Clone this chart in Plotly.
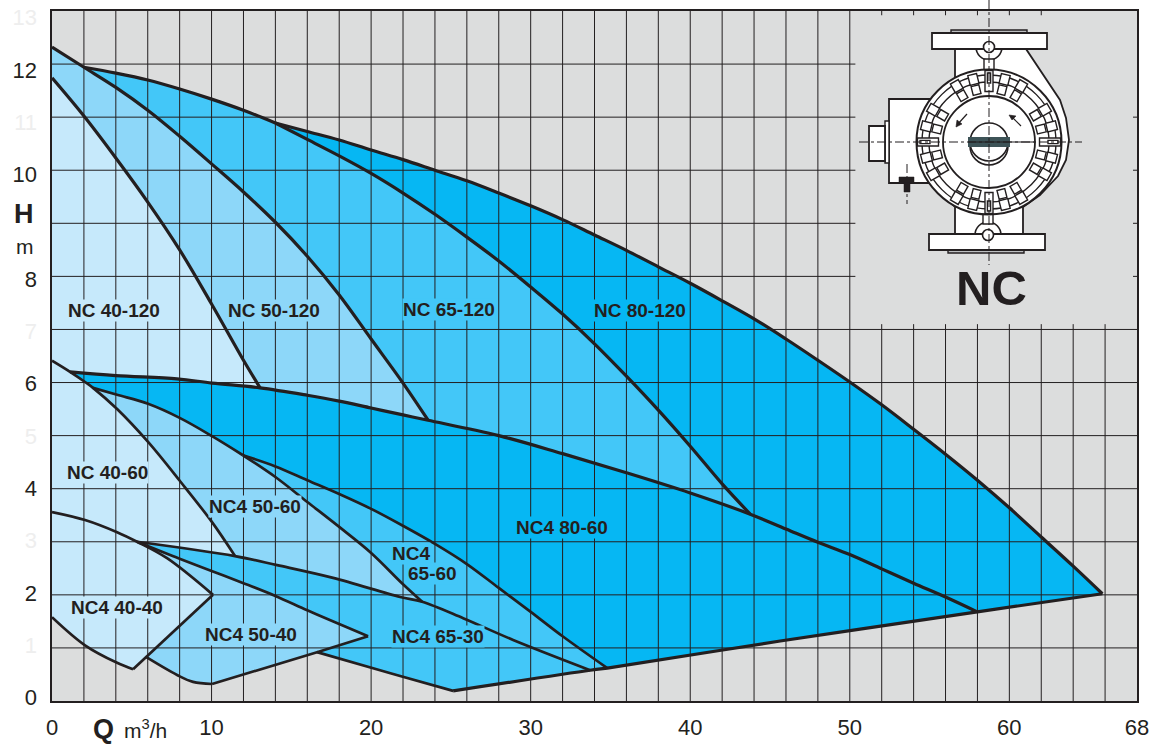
import math
import plotly.graph_objects as go

# ---- axis ticks ----
X_TICKS = [0, 10, 20, 30, 40, 50, 60, 68]
Y_DARK = [0, 2, 4, 6, 8, 10, 12]
Y_FAINT = [1, 3, 5, 7, 11, 13]

# ---- curves (Q m3/h, H m) ----
C40_120_Q = [0, 2, 4, 6, 8, 10, 12, 13.04]
C40_120_H = [11.74, 11.02, 10.23, 9.40, 8.50, 7.48, 6.42, 5.90]
C50_120_Q = [0, 2, 4, 6, 8, 10, 12, 14, 16, 18, 20, 22, 23.57]
C50_120_H = [12.32, 11.94, 11.56, 11.13, 10.64, 10.12, 9.59, 9.02, 8.38, 7.65, 6.82, 5.99, 5.29]
C65_120_Q = [14, 16, 18, 20, 22, 24, 26, 28, 30, 32, 34, 36, 38, 40, 42, 43.76]
C65_120_H = [10.89, 10.58, 10.27, 9.94, 9.57, 9.17, 8.74, 8.29, 7.80, 7.29, 6.73, 6.12, 5.48, 4.80, 4.09, 3.52]
TOP_A_Q = [2, 4, 6, 8, 10, 12, 14]
TOP_A_H = [11.94, 11.83, 11.70, 11.53, 11.34, 11.13, 10.89]
TOP_B_Q = [14, 16, 18, 20, 22, 24, 26, 28, 30, 32, 34, 36, 38, 40, 42, 44, 46, 48, 50, 52, 54, 56, 58, 60, 62, 64, 65.83]
TOP_B_H = [10.89, 10.73, 10.57, 10.38, 10.20, 10.00, 9.80, 9.57, 9.33, 9.07, 8.78, 8.49, 8.18, 7.87, 7.54, 7.20, 6.82,
           6.42, 6.01, 5.58, 5.12, 4.65, 4.16, 3.64, 3.09, 2.54, 2.02]
LOW_A_Q = [1.13, 4.00, 7.84, 10.03, 13.04]
LOW_A_H = [6.20, 6.13, 6.07, 5.99, 5.90]
LOW_B_Q = [13.04, 16, 18, 20, 22, 23.57]
LOW_B_H = [5.90, 5.76, 5.65, 5.52, 5.39, 5.29]
LOW_C_Q = [23.57, 28, 32, 36, 40, 43.76]
LOW_C_H = [5.29, 5.00, 4.66, 4.30, 3.92, 3.52]
LOW_D_Q = [43.76, 46, 48, 50, 52, 54, 56, 57.99]
LOW_D_H = [3.52, 3.24, 2.99, 2.76, 2.49, 2.22, 1.96, 1.68]
C40_60A_Q = [0, 1.13, 2.07, 2.57]
C40_60A_H = [6.41, 6.20, 6.01, 5.90]
C40_60B_Q = [2.57, 4.08, 6.02, 8.03, 10.03, 11.47]
C40_60B_H = [5.90, 5.50, 4.88, 4.14, 3.37, 2.73]
COMMON_Q = [2.57, 4.08, 6.02, 8.03, 10.03, 11.97]
COMMON_H = [5.90, 5.77, 5.60, 5.33, 4.99, 4.63]
C50_60_Q = [11.97, 14, 16, 18, 20, 22, 23.20]
C50_60_H = [4.63, 4.22, 3.75, 3.28, 2.79, 2.20, 1.87]
C65_60_Q = [11.97, 14, 16, 18, 20, 22, 24, 26, 28, 30, 32, 34.80]
C65_60_H = [4.63, 4.42, 4.16, 3.90, 3.62, 3.30, 2.96, 2.58, 2.13, 1.68, 1.22, 0.62]
C65_30A_Q = [5.33, 11.47]
C65_30A_H = [3.00, 2.73]
C65_30B_Q = [11.47, 14.11, 17.62, 21.82, 23.20]
C65_30B_H = [2.73, 2.56, 2.32, 1.96, 1.87]
C65_30C_Q = [23.20, 25.77, 28.90, 33.73]
C65_30C_H = [1.87, 1.56, 1.15, 0.58]
C50_40T_Q = [5.33, 8, 10, 12, 14, 16, 18, 19.81]
C50_40T_H = [3.00, 2.68, 2.45, 2.22, 1.98, 1.71, 1.45, 1.22]
C50_40E_Q = [19.81, 16.61, 10.03]
C50_40E_H = [1.22, 0.92, 0.32]
C50_40L_Q = [10.03, 8.84, 7.84, 5.89]
C50_40L_H = [0.32, 0.36, 0.49, 0.83]
C65_30L_Q = [16.61, 20.56, 21.82, 25.14]
C65_30L_H = [0.92, 0.58, 0.47, 0.19]
BOTTOM_Q = [25.14, 33.73, 34.80, 45.64, 57.99, 65.83]
BOTTOM_H = [0.19, 0.58, 0.62, 1.13, 1.68, 2.02]
C40_40T_Q = [0, 2.07, 4.08, 5.33, 7.21, 10.09]
C40_40T_H = [3.56, 3.41, 3.18, 3.00, 2.69, 2.00]
C40_40E_Q = [10.09, 5.08]
C40_40E_H = [2.00, 0.60]
C40_40L_Q = [0, 2.07, 4.08, 5.08]
C40_40L_H = [1.58, 1.05, 0.72, 0.60]

# ---- pump labels ----
LABELS = ["NC 40-120", "NC 50-120", "NC 65-120", "NC 80-120", "NC 40-60", "NC4 50-60", "NC4", "65-60",
          "NC4 80-60", "NC4 40-40", "NC4 50-40", "NC4 65-30"]
LABEL_Q = [3.89, 13.92, 24.90, 36.82, 3.50, 12.75, 22.50, 23.82, 31.95, 4.08, 12.45, 24.20]
LABEL_H = [7.35, 7.35, 7.37, 7.35, 4.31, 3.67, 2.77, 2.41, 3.26, 1.77, 1.26, 1.22]

# ---- colours ----
INK = "#231f20"
BG = "#dcdddd"
C40 = "#c6e9fb"
C50 = "#8dd7f9"
C65 = "#43c7f8"
C80 = "#06b7f3"
LABEL_BG = [C40, C50, C65, C80, C40, C50, C65, C65, C80, C40, C50, C65]

W, H = 1155, 744
L, R, T, B = 52, 1137, 11, 701


def join(*parts):
    qs, hs = [], []
    for q, h, rev in parts:
        qs += list(reversed(q)) if rev else list(q)
        hs += list(reversed(h)) if rev else list(h)
    return qs, hs


fills = [
    (C80, join((TOP_B_Q, TOP_B_H, 0), (LOW_D_Q, LOW_D_H, 1), (C65_120_Q, C65_120_H, 1))),
    (C65, join((TOP_A_Q, TOP_A_H, 0), (C65_120_Q, C65_120_H, 0), (LOW_C_Q, LOW_C_H, 1), (C50_120_Q[1:], C50_120_H[1:], 1))),
    (C50, join((C50_120_Q, C50_120_H, 0), (LOW_B_Q, LOW_B_H, 1), (C40_120_Q, C40_120_H, 1))),
    (C40, join((C40_120_Q, C40_120_H, 0), (LOW_A_Q, LOW_A_H, 1), (C40_60A_Q[:1], C40_60A_H[:1], 0))),
    (C80, join((LOW_A_Q, LOW_A_H, 0), (LOW_B_Q, LOW_B_H, 0), (LOW_C_Q, LOW_C_H, 0), (LOW_D_Q, LOW_D_H, 0),
               (BOTTOM_Q[2:], BOTTOM_H[2:], 1), (C65_60_Q, C65_60_H, 1), (COMMON_Q, COMMON_H, 1))),
    (C65, join((C65_60_Q, C65_60_H, 0), (C65_30C_Q, C65_30C_H, 1), (C50_60_Q, C50_60_H, 1))),
    (C50, join((COMMON_Q, COMMON_H, 0), (C50_60_Q, C50_60_H, 0), (C65_30B_Q, C65_30B_H, 1), (C40_60B_Q, C40_60B_H, 1))),
    (C40, join((C40_60A_Q, C40_60A_H, 0), (C40_60B_Q, C40_60B_H, 0), (C65_30A_Q, C65_30A_H, 1), (C40_40T_Q[:4], C40_40T_H[:4], 1))),
    (C40, join((C40_40T_Q, C40_40T_H, 0), (C40_40L_Q, C40_40L_H, 1))),
    (C50, join((C50_40T_Q, C50_40T_H, 0), (C50_40E_Q, C50_40E_H, 0), (C50_40L_Q, C50_40L_H, 0), (C40_40T_Q[3:], C40_40T_H[3:], 1))),
    (C65, join((C65_30A_Q, C65_30A_H, 0), (C65_30B_Q, C65_30B_H, 0), (C65_30C_Q, C65_30C_H, 0), (BOTTOM_Q[:1], BOTTOM_H[:1], 0),
               (C65_30L_Q, C65_30L_H, 1), (C50_40T_Q, C50_40T_H, 1))),
]

fig = go.Figure()
for colour, (q, h) in fills:
    fig.add_trace(go.Scatter(x=q, y=h, mode="none", fill="toself", fillcolor=colour, hoverinfo="skip"))

# grid drawn over the coloured areas
gx, gy = [], []
for q in range(2, 68, 2):
    if q <= 50:
        gx += [q, q, None]; gy += [0, 13, None]
    else:
        gx += [q, q, None]; gy += [0, 7.10, None]
        if q <= 62:
            gx += [q, q, None]; gy += [12.92, 13, None]
for v in range(1, 13):
    if v <= 7:
        gx += [0, 68, None]; gy += [v, v, None]
    else:
        gx += [0, 50.35, None]; gy += [v, v, None]
        if v <= 11:
            gx += [67.75, 68, None]; gy += [v, v, None]
fig.add_trace(go.Scatter(x=gx, y=gy, mode="lines", line=dict(color=INK, width=1), hoverinfo="skip"))

heavy = [(C40_120_Q, C40_120_H), (C50_120_Q, C50_120_H), (C65_120_Q, C65_120_H), (TOP_A_Q, TOP_A_H), (TOP_B_Q, TOP_B_H),
         join((LOW_A_Q, LOW_A_H, 0), (LOW_B_Q[1:], LOW_B_H[1:], 0), (LOW_C_Q[1:], LOW_C_H[1:], 0), (LOW_D_Q[1:], LOW_D_H[1:], 0)),
         (BOTTOM_Q, BOTTOM_H)]
light = [join((C40_60A_Q, C40_60A_H, 0), (C40_60B_Q[1:], C40_60B_H[1:], 0)), (COMMON_Q, COMMON_H), (C50_60_Q, C50_60_H),
         (C65_60_Q, C65_60_H), join((C65_30A_Q, C65_30A_H, 0), (C65_30B_Q[1:], C65_30B_H[1:], 0), (C65_30C_Q[1:], C65_30C_H[1:], 0)),
         (C50_40T_Q, C50_40T_H), (C50_40E_Q, C50_40E_H), (C50_40L_Q, C50_40L_H), (C65_30L_Q, C65_30L_H),
         (C40_40T_Q, C40_40T_H), (C40_40E_Q, C40_40E_H), (C40_40L_Q, C40_40L_H)]
for q, h in heavy:
    fig.add_trace(go.Scatter(x=q, y=h, mode="lines", cliponaxis=False, hoverinfo="skip",
                             line=dict(color=INK, width=3.2, shape="spline", smoothing=1.0)))
for q, h in light:
    fig.add_trace(go.Scatter(x=q, y=h, mode="lines", cliponaxis=False, hoverinfo="skip",
                             line=dict(color=INK, width=2.7, shape="spline", smoothing=1.0)))

# carrier for the tick-label axis (its numerals sit slightly off the grid in the original)
fig.add_trace(go.Scatter(x=[0], y=[0], yaxis="y2", mode="none", hoverinfo="skip"))


# ---- pump drawing: pixel helper functions; the figure has no margins, the paper is the whole page ----
def px(x):
    return x / W


def py(y):
    return (H - y) / H


shapes = []


def path(points, fill=None, close=True, width=1.6, colour=INK):
    d = "M " + " L ".join(f"{px(x):.5f} {py(y):.5f}" for x, y in points) + (" Z" if close else "")
    s = dict(type="path", xref="paper", yref="paper", path=d, line=dict(color=colour, width=width), layer="above")
    if fill:
        s["fillcolor"] = fill
    shapes.append(s)


def rect(x0, y0, x1, y1, fill="white", width=1.8):
    path([(x0, y0), (x1, y0), (x1, y1), (x0, y1)], fill=fill, width=width)


def circle(cx, cy, r, fill="white", width=1.6):
    s = dict(type="circle", xref="paper", yref="paper", x0=px(cx - r), x1=px(cx + r), y0=py(cy + r), y1=py(cy - r),
             line=dict(color=INK, width=width), layer="above")
    if fill:
        s["fillcolor"] = fill
    shapes.append(s)


def dash(x0, y0, x1, y1):
    shapes.append(dict(type="line", xref="paper", yref="paper", x0=px(x0), x1=px(x1), y0=py(y0), y1=py(y1),
                       line=dict(color=INK, width=1, dash="dashdot"), layer="above"))


def block(cx, cy, ang, r, rad, tan):
    a = math.radians(ang)
    ux, uy = math.cos(a), -math.sin(a)
    vx, vy = -uy, ux
    c = (cx + r * ux, cy + r * uy)
    pts = [(c[0] + i * rad * ux + j * tan * vx, c[1] + i * rad * uy + j * tan * vy)
           for i, j in ((1, 1), (1, -1), (-1, -1), (-1, 1))]
    path(pts, fill="white", width=1.4)


CX, CY = 989, 142
# volute / necks
path([(955, 49), (1026, 49), (1060, 100), (1066, 118), (1069, 140), (1066, 160), (1058, 176), (1040, 195), (1023, 207),
      (1023, 234), (955, 234), (955, 207), (930, 180), (955, 80)], fill="white", width=1.8)
# terminal box
rect(889, 99, 930, 183)
rect(885, 121, 889, 163, width=1.4)
rect(869, 126, 885, 161)
rect(899, 177, 914, 183, fill=INK, width=0.5)
rect(904, 183, 910, 192, fill=INK, width=0.5)
# bolt bosses
circle(989, 47, 13)
circle(988, 235, 13)
# flanges
rect(951, 30, 1027, 33, fill="#bcbec0", width=1.4)
rect(932, 33, 1047, 49)
rect(948, 249, 1024, 253, fill="#bcbec0", width=1.4)
rect(929, 234, 1045, 250)
circle(989, 47, 5.5)
circle(988, 235, 5.5)
rect(984, 59, 994, 72, width=1.4)
rect(983, 210, 993, 224, width=1.4)
# stator ring
circle(CX, CY, 72.5, width=2)
circle(CX, CY, 67, width=1.4)
circle(CX, CY, 60, width=1.4)
for base in (0, 90, 180, 270):
    block(CX, CY, base, 61, 10.5, 4)
    block(CX, CY, base, 64, 5, 1.6)
    for off in (-30, -14, 14, 30):
        block(CX, CY, base + off, 64.5, 5, 4.5)
        block(CX, CY, base + off, 53.5, 4.5, 4)
circle(CX, CY, 46, width=1.8)
circle(CX, 146, 19, fill="white", width=1.6)
circle(CX, CY, 19, fill="white", width=1.6)
rect(968, 137, 1010, 147, fill="#3d5357", width=0)
# flow arrows
path([(967, 114), (957, 125)], close=False, width=1.2)
path([(956, 127), (957, 120), (962, 124)], fill=INK, width=0.6)
path([(1021, 126), (1011, 116)], close=False, width=1.2)
path([(1009, 115), (1016, 116), (1012, 120)], fill=INK, width=0.6)
# centre lines
dash(859, 142, 1082, 142)
dash(989, 0, 989, 265)
dash(907, 164, 907, 204)
path([(968, 142), (1034, 142)], close=False, width=1.2)


# ---- text ----
def text(s, x, y, size, bold=False):
    return dict(text=f"<b>{s}</b>" if bold else s, xref="paper", yref="paper", x=px(x), y=py(y), xanchor="center",
                yanchor="middle", showarrow=False, font=dict(family="Liberation Sans", size=size, color=INK))


annotations = [
    dict(text=f"<b>{t}</b>", x=q, y=v, xref="x", yref="y", showarrow=False, xanchor="center", yanchor="middle",
         bgcolor=bg, borderpad=0, font=dict(family="Liberation Sans", size=19, color=INK))
    for t, q, v, bg in zip(LABELS, LABEL_Q, LABEL_H, LABEL_BG)
]
annotations += [
    text("H", 24, 214, 27, True),
    text("m", 25, 246, 21),
    text("Q", 103, 729, 27, True),
    text("m<sup>3</sup>/h", 145, 729, 21),
    text("NC", 991, 288, 49, True),
]

y_vals = sorted(Y_DARK + Y_FAINT)
y_text = [str(v) if v in Y_DARK else f'<span style="color:#eeeeee">{v}</span>' for v in y_vals]

fig.update_layout(
    width=W, height=H, autosize=False, showlegend=False, hovermode=False,
    margin=dict(l=0, r=0, t=0, b=0, pad=0),
    paper_bgcolor="white", plot_bgcolor=BG,
    font=dict(family="Liberation Sans", size=22, color=INK),
    xaxis=dict(domain=[L / W, R / W], range=[0, 68], tickvals=X_TICKS, ticktext=[str(v) for v in X_TICKS], showgrid=False,
               zeroline=False, ticks="", showline=True, mirror=True, linecolor=INK, linewidth=1.5, ticklabelstandoff=6,
               tickfont=dict(size=22, color=INK), automargin=False),
    yaxis=dict(domain=[(H - B) / H, (H - T) / H], range=[0, 13], showticklabels=False, showgrid=False, zeroline=False,
               ticks="", showline=True, mirror=True, linecolor=INK, linewidth=1.5, automargin=False),
    yaxis2=dict(range=[-0.067, 13.126], overlaying="y", side="left", anchor="x", tickvals=y_vals, ticktext=y_text,
                showgrid=False, zeroline=False, ticks="", showline=False, ticklabelstandoff=14,
                tickfont=dict(size=22, color=INK), automargin=False),
    shapes=shapes, annotations=annotations,
)

fig.write_html("out.html", config=dict(displayModeBar=False),
               post_script="document.body.style.margin='0';")
